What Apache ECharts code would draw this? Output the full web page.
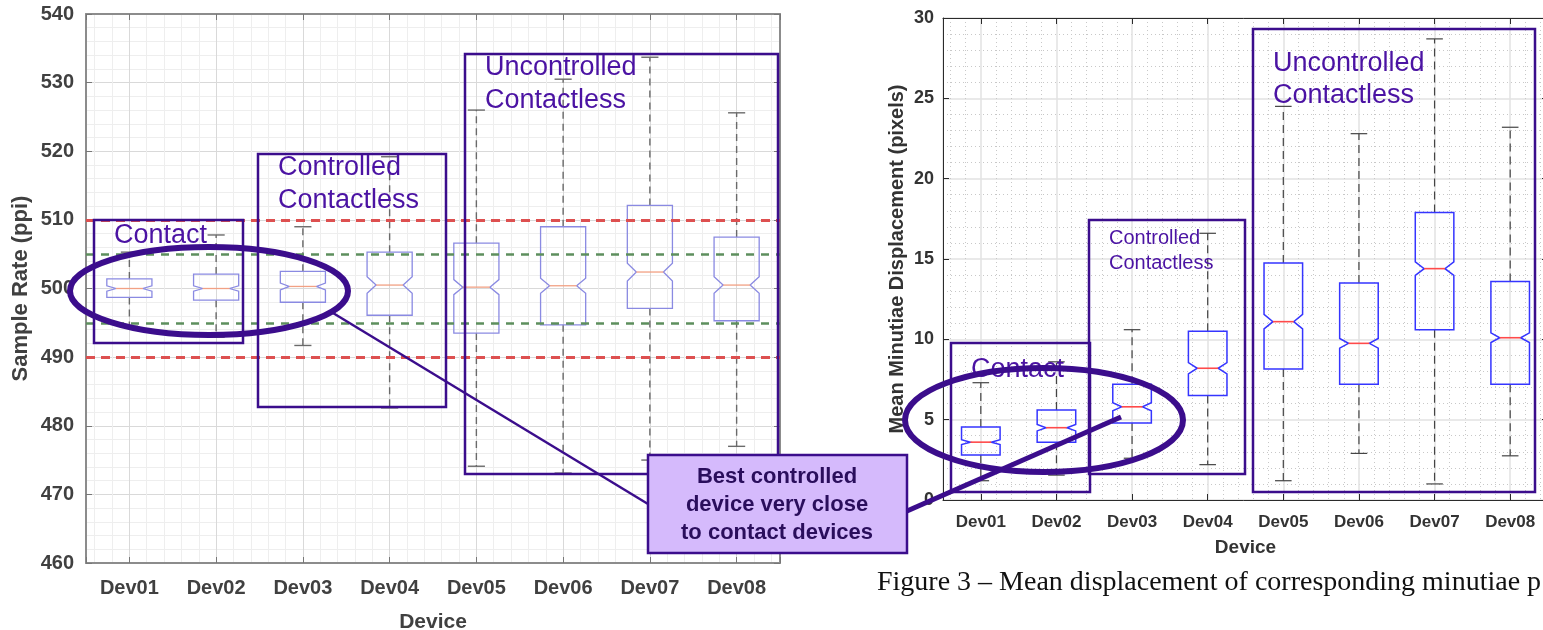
<!DOCTYPE html>
<html>
<head>
<meta charset="utf-8">
<script src="https://cdn.jsdelivr.net/npm/echarts@6/dist/echarts.min.js"></script>
<style>
  html, body { margin: 0; padding: 0; background: #fff; overflow: hidden; }
  #chart { width: 1543px; height: 630px; }
</style>
</head>
<body>
<div id="chart"></div>
<script>
// devices on both plots
const devices = ['Dev01', 'Dev02', 'Dev03', 'Dev04', 'Dev05', 'Dev06', 'Dev07', 'Dev08']

// left plot: sample rate (ppi)
const rateMin = [494.5, 492.9, 491.7, 482.6, 474.1, 473.1, 475.0, 477.0]
const rateQ1 = [498.7, 498.3, 498.0, 496.1, 493.5, 494.7, 497.1, 495.3]
const rateMed = [500.0, 500.0, 500.3, 500.5, 500.2, 500.4, 502.4, 500.5]
const rateQ3 = [501.4, 502.1, 502.5, 505.3, 506.6, 509.0, 512.1, 507.5]
const rateMax = [505.3, 507.8, 509.0, 519.2, 526.0, 530.5, 533.7, 525.6]
const rateNotch = [0.4, 0.4, 0.5, 1.2, 1.1, 1.1, 1.3, 1.2]
const redLimits = [490, 510]
const greenLimits = [495, 505]

// right plot: mean minutiae displacement (pixels)
const dispMin = [1.2, 1.55, 2.6, 2.2, 1.2, 2.9, 1.0, 2.75]
const dispQ1 = [2.8, 3.6, 4.8, 6.5, 8.15, 7.2, 10.6, 7.2]
const dispMed = [3.6, 4.5, 5.8, 8.2, 11.1, 9.75, 14.4, 10.1]
const dispQ3 = [4.55, 5.6, 7.2, 10.5, 14.75, 13.5, 17.9, 13.6]
const dispMax = [7.3, 8.6, 10.6, 16.6, 24.5, 22.8, 28.7, 23.2]
const dispNotch = [0.15, 0.2, 0.25, 0.35, 0.45, 0.3, 0.42, 0.3]

const FONT = '"Liberation Sans", Arial, sans-serif'
const INK = '#3b0d8c' // annotation purple
const TXT = '#4b13a3'

function rows(mn, q1, md, q3, mx, nt) {
  return devices.map((d, i) => [i, mn[i], q1[i], md[i], q3[i], mx[i], nt[i]])
}

// notched box drawn through the axes
function makeBox(s) {
  return function (params, api) {
    const i = api.value(0)
    const band = api.size([1, 0])[0]
    const bw = band * s.width
    const cx = api.coord([i, 0])[0]
    const l = cx - bw / 2
    const r = cx + bw / 2
    const d = bw * s.notch
    const y = v => api.coord([i, v])[1]
    const med = api.value(3)
    const n = api.value(6)
    const yMin = y(api.value(1))
    const yQ1 = y(api.value(2))
    const yMed = y(med)
    const yQ3 = y(api.value(4))
    const yMax = y(api.value(5))
    const nTop = y(med + n)
    const nBot = y(med - n)
    const cw = bw * s.cap
    const wStyle = { stroke: s.whisker, lineWidth: s.wWidth, lineDash: s.dash }
    const cStyle = { stroke: s.whisker, lineWidth: s.wWidth }
    return {
      type: 'group',
      children: [
        { type: 'line', shape: { x1: cx, y1: yQ3, x2: cx, y2: yMax }, style: wStyle },
        { type: 'line', shape: { x1: cx, y1: yQ1, x2: cx, y2: yMin }, style: wStyle },
        { type: 'line', shape: { x1: cx - cw / 2, y1: yMax, x2: cx + cw / 2, y2: yMax }, style: cStyle },
        { type: 'line', shape: { x1: cx - cw / 2, y1: yMin, x2: cx + cw / 2, y2: yMin }, style: cStyle },
        {
          type: 'polygon',
          shape: {
            points: [[l, yQ3], [r, yQ3], [r, nTop], [r - d, yMed], [r, nBot], [r, yQ1],
              [l, yQ1], [l, nBot], [l + d, yMed], [l, nTop]],
          },
          style: { fill: 'none', stroke: s.box, lineWidth: s.bWidth },
        },
        { type: 'line', shape: { x1: l + d, y1: yMed, x2: r - d, y2: yMed }, style: { stroke: s.median, lineWidth: s.mWidth } },
      ],
    }
  }
}

const devLabel = v => (Number.isInteger(v) && devices[v]) ? devices[v] : ''

function xAxes(grid, o) {
  return [
    {
      gridIndex: grid, type: 'value', min: -0.5, max: 7.5, splitNumber: 8, position: 'bottom',
      name: 'Device', nameLocation: 'middle', nameGap: o.nameGap,
      nameTextStyle: { fontFamily: FONT, fontWeight: 'bold', fontSize: o.nameSize, color: o.text },
      axisLine: { onZero: false, lineStyle: { color: o.line, width: o.lineW } },
      axisTick: { inside: true, length: 6, lineStyle: { color: o.tick } },
      axisLabel: { formatter: devLabel, fontFamily: FONT, fontWeight: 'bold', fontSize: o.labelSize, color: o.text, margin: o.margin },
      splitLine: { show: true, lineStyle: { color: o.split, width: o.splitW } },
      minorTick: { show: false, splitNumber: 5 },
      minorSplitLine: { show: true, lineStyle: { color: o.minor, width: 1, type: o.minorType } },
    },
    {
      gridIndex: grid, type: 'value', min: -0.5, max: 7.5, splitNumber: 8, position: 'top',
      axisLine: { onZero: false, lineStyle: { color: o.line, width: o.lineW } },
      axisTick: { inside: true, length: 6, lineStyle: { color: o.tick } },
      axisLabel: { show: false },
      splitLine: { show: false },
    },
  ]
}

function yAxes(grid, o) {
  return [
    {
      gridIndex: grid, type: 'value', min: o.min, max: o.max, interval: o.interval, position: 'left',
      name: o.name, nameLocation: 'middle', nameGap: o.nameGap,
      nameTextStyle: { fontFamily: FONT, fontWeight: 'bold', fontSize: o.nameSize, color: o.text },
      axisLine: { show: true, onZero: false, lineStyle: { color: o.line, width: o.lineW } },
      axisTick: { show: true, inside: true, length: 6, lineStyle: { color: o.tick } },
      axisLabel: { fontFamily: FONT, fontWeight: 'bold', fontSize: o.labelSize, color: o.text, margin: o.margin },
      splitLine: { show: true, lineStyle: { color: o.split, width: o.splitW } },
      minorTick: { show: false, splitNumber: 5 },
      minorSplitLine: { show: true, lineStyle: { color: o.minor, width: 1, type: o.minorType } },
    },
    {
      gridIndex: grid, type: 'value', min: o.min, max: o.max, interval: o.interval, position: 'right',
      axisLine: { show: true, onZero: false, lineStyle: { color: o.line, width: o.lineW } },
      axisTick: { show: true, inside: true, length: 6, lineStyle: { color: o.tick } },
      axisLabel: { show: false },
      splitLine: { show: false },
    },
  ]
}

const leftStyle = { line: '#8c8c8c', lineW: 2, tick: '#777', text: '#404040', split: '#d9d9d9', splitW: 1, minor: '#eeeeee', minorType: 'solid' }
const rightStyle = { line: '#2b2b2b', lineW: 1, tick: '#2b2b2b', text: '#333333', split: '#e2e2e2', splitW: 1.5, minor: '#c8c8c8', minorType: [1, 3] }

const limitLine = (v, color, dash, w) => ({ yAxis: v, lineStyle: { color, type: dash, width: w } })

function rect(x, y, w, h) {
  return { type: 'rect', z: 50, shape: { x, y, width: w, height: h }, style: { fill: 'none', stroke: INK, lineWidth: 2.5 } }
}
function label(x, y, text, size) {
  return { type: 'text', z: 51, x, y, style: { text, font: `${size}px ${FONT}`, fill: TXT, verticalAlign: 'middle' } }
}

const option = {
  backgroundColor: '#fff',
  animation: false,
  grid: [
    { left: 86, top: 14, width: 694, height: 549, outerBoundsMode: 'none', containLabel: false },
    { left: 943, top: 18, width: 605, height: 482, outerBoundsMode: 'none', containLabel: false },
  ],
  xAxis: [
    ...xAxes(0, { ...leftStyle, nameGap: 49, nameSize: 21, labelSize: 20, margin: 15 }),
    ...xAxes(1, { ...rightStyle, nameGap: 38, nameSize: 19, labelSize: 17, margin: 14 }),
  ],
  yAxis: [
    ...yAxes(0, { ...leftStyle, min: 460, max: 540, interval: 10, name: 'Sample Rate (ppi)', nameGap: 54, nameSize: 22, labelSize: 20, margin: 12 }),
    ...yAxes(1, { ...rightStyle, min: 0, max: 30, interval: 5, name: 'Mean Minutiae Displacement (pixels)', nameGap: 36, nameSize: 20, labelSize: 18, margin: 9 }),
  ],
  series: [
    {
      type: 'custom', name: 'Sample rate', xAxisIndex: 0, yAxisIndex: 0,
      renderItem: makeBox({ width: 0.52, notch: 0.2, cap: 0.38, box: '#8a8ae2', bWidth: 1.3, median: '#f2a184', mWidth: 1.3, whisker: '#6a6a6a', wWidth: 1.4, dash: [7, 5] }),
      encode: { x: 0, y: [1, 2, 3, 4, 5] },
      data: rows(rateMin, rateQ1, rateMed, rateQ3, rateMax, rateNotch),
    },
    {
      type: 'line', name: 'limits', xAxisIndex: 0, yAxisIndex: 0, data: [],
      markLine: {
        silent: true, symbol: 'none', label: { show: false }, z: 5,
        data: [
          ...redLimits.map(v => limitLine(v, '#dd5050', [9, 6], 3)),
          ...greenLimits.map(v => limitLine(v, '#5d8f5d', [8, 7], 2.5)),
        ],
      },
    },
    {
      type: 'custom', name: 'Displacement', xAxisIndex: 2, yAxisIndex: 2,
      renderItem: makeBox({ width: 0.51, notch: 0.23, cap: 0.43, box: '#3535ff', bWidth: 1.5, median: '#ff4a4a', mWidth: 1.6, whisker: '#444', wWidth: 1.2, dash: [8, 5] }),
      encode: { x: 0, y: [1, 2, 3, 4, 5] },
      data: rows(dispMin, dispQ1, dispMed, dispQ3, dispMax, dispNotch),
    },
  ],
  graphic: [
    // left plot groups
    rect(94, 220, 149, 123),
    label(114, 236, 'Contact', 27),
    rect(258, 154, 188, 253),
    label(278, 168, 'Controlled', 27),
    label(278, 201, 'Contactless', 27),
    rect(465, 54, 313, 420),
    label(485, 68, 'Uncontrolled', 27),
    label(485, 101, 'Contactless', 27),
    { type: 'ellipse', z: 52, shape: { cx: 209, cy: 291, rx: 139, ry: 44 }, style: { fill: 'none', stroke: INK, lineWidth: 6 } },
    { type: 'line', z: 52, shape: { x1: 333, y1: 313, x2: 648, y2: 504 }, style: { stroke: INK, lineWidth: 2.5 } },
    // right plot groups
    rect(951, 343, 139, 149),
    label(971, 370, 'Contact', 27),
    rect(1089, 220, 156, 254),
    label(1109, 238, 'Controlled', 20),
    label(1109, 263, 'Contactless', 20),
    rect(1253, 29, 282, 463),
    label(1273, 64, 'Uncontrolled', 27),
    label(1273, 96, 'Contactless', 27),
    { type: 'ellipse', z: 52, shape: { cx: 1044, cy: 420, rx: 139, ry: 52 }, style: { fill: 'none', stroke: INK, lineWidth: 6 } },
    { type: 'line', z: 52, shape: { x1: 907, y1: 511, x2: 1121, y2: 417 }, style: { stroke: INK, lineWidth: 5 } },
    // callout
    { type: 'rect', z: 60, shape: { x: 648, y: 455, width: 259, height: 98 }, style: { fill: '#d5bafc', stroke: INK, lineWidth: 2.5 } },
    { type: 'text', z: 61, x: 777, y: 477, style: { text: 'Best controlled', font: `bold 22px ${FONT}`, fill: '#2a0e5c', align: 'center', verticalAlign: 'middle' } },
    { type: 'text', z: 61, x: 777, y: 505, style: { text: 'device very close', font: `bold 22px ${FONT}`, fill: '#2a0e5c', align: 'center', verticalAlign: 'middle' } },
    { type: 'text', z: 61, x: 777, y: 533, style: { text: 'to contact devices', font: `bold 22px ${FONT}`, fill: '#2a0e5c', align: 'center', verticalAlign: 'middle' } },
    // figure caption
    { type: 'text', z: 61, x: 877, y: 583, style: { text: 'Figure 3 \u2013 Mean displacement of corresponding minutiae p', font: '28px "Liberation Serif", "Times New Roman", serif', fill: '#111', verticalAlign: 'middle' } },
  ],
}

const chart = echarts.init(document.getElementById('chart'))
chart.setOption(option)
</script>
</body>
</html>
